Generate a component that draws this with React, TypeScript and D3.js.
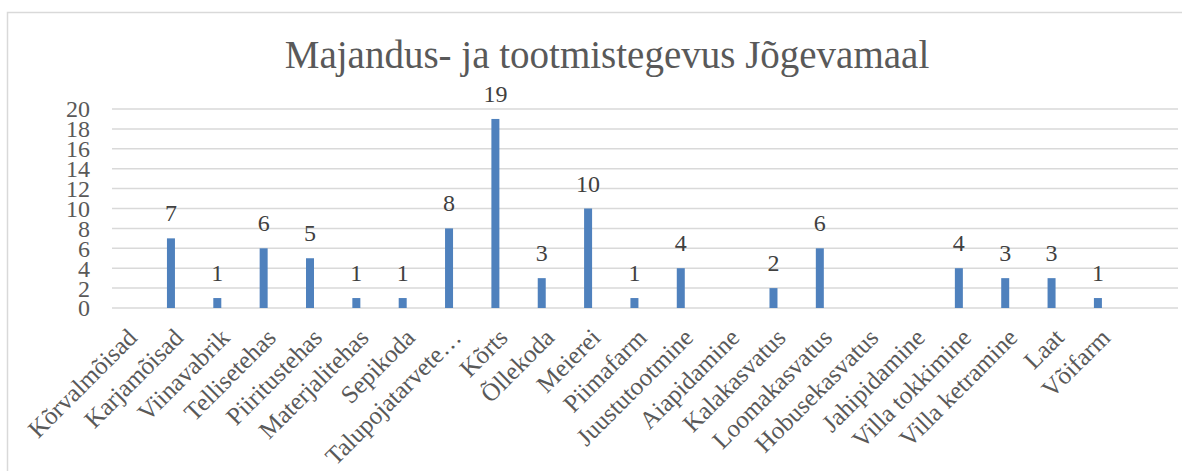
import React, { useRef, useEffect } from "react";
import * as d3 from "d3";

const title = "Majandus- ja tootmistegevus Jõgevamaal";

const categories = [
  "Kõrvalmõisad",
  "Karjamõisad",
  "Viinavabrik",
  "Tellisetehas",
  "Piiritustehas",
  "Materjalitehas",
  "Sepikoda",
  "Talupojatarvete…",
  "Kõrts",
  "Õllekoda",
  "Meierei",
  "Piimafarm",
  "Juustutootmine",
  "Aiapidamine",
  "Kalakasvatus",
  "Loomakasvatus",
  "Hobusekasvatus",
  "Jahipidamine",
  "Villa tokkimine",
  "Villa ketramine",
  "Laat",
  "Võifarm",
  "",
];

const values: (number | null)[] = [
  null, 7, 1, 6, 5, 1, 1, 8, 19, 3, 10, 1, 4, null, 2, 6, null, null, 4, 3, 3, 1, null,
];

const yTicks = [0, 2, 4, 6, 8, 10, 12, 14, 16, 18, 20];

const W = 1182;
const H = 471;
const FONT = "'Liberation Serif', 'DejaVu Serif', serif";

export default function App() {
  const svgRef = useRef<SVGSVGElement>(null);

  useEffect(() => {
    const svg = d3.select(svgRef.current);
    svg.selectAll("*").remove();

    const left = 112;
    const right = 1178;
    const top = 109;
    const bottom = 308;

    // chart frame (cropped on right and bottom)
    svg
      .append("rect")
      .attr("x", 7.5)
      .attr("y", 12.5)
      .attr("width", W + 20)
      .attr("height", H + 20)
      .attr("fill", "#fff")
      .attr("stroke", "#d9d9d9")
      .attr("stroke-width", 1.5);

    const x = d3.scaleBand<string>().domain(categories.map((c, i) => i + "")).range([left, right]);
    const y = d3.scaleLinear().domain([0, 20]).range([bottom, top]);

    const barW = 8;
    const seriesShift = -x.bandwidth() * 0.228;
    const cx = (i: number) => (x(i + "") as number) + x.bandwidth() / 2;

    // title
    svg
      .append("text")
      .attr("x", 607)
      .attr("y", 68)
      .attr("text-anchor", "middle")
      .attr("font-family", FONT)
      .attr("font-size", 39)
      .attr("fill", "#595959")
      .text(title);

    // gridlines
    svg
      .append("g")
      .selectAll("line")
      .data(yTicks)
      .join("line")
      .attr("x1", left)
      .attr("x2", right)
      .attr("y1", (d) => y(d))
      .attr("y2", (d) => y(d))
      .attr("stroke", "#d9d9d9")
      .attr("stroke-width", 1.5);

    // y tick labels
    svg
      .append("g")
      .selectAll("text")
      .data(yTicks)
      .join("text")
      .attr("x", 90)
      .attr("y", (d) => y(d))
      .attr("dy", "0.35em")
      .attr("text-anchor", "end")
      .attr("font-family", FONT)
      .attr("font-size", 24)
      .attr("fill", "#595959")
      .text((d) => d);

    const data = categories.map((c, i) => ({ c, i, v: values[i] })).filter((d) => d.v != null);

    // bars
    svg
      .append("g")
      .selectAll("rect")
      .data(data)
      .join("rect")
      .attr("x", (d) => cx(d.i) + seriesShift - barW / 2)
      .attr("y", (d) => y(d.v as number))
      .attr("width", barW)
      .attr("height", (d) => bottom - y(d.v as number))
      .attr("fill", "#4f81bd");

    // data labels
    svg
      .append("g")
      .selectAll("text")
      .data(data)
      .join("text")
      .attr("x", (d) => cx(d.i) + seriesShift)
      .attr("y", (d) => y(d.v as number) - 17)
      .attr("text-anchor", "middle")
      .attr("font-family", FONT)
      .attr("font-size", 24)
      .attr("fill", "#404040")
      .text((d) => d.v as number);

    // category labels
    svg
      .append("g")
      .selectAll("text")
      .data(categories)
      .join("text")
      .attr("transform", (d, i) => `translate(${cx(i) - 3},${bottom + 25}) rotate(-45)`)
      .attr("text-anchor", "end")
      .attr("dy", "0.35em")
      .attr("font-family", FONT)
      .attr("font-size", 25)
      .attr("fill", "#595959")
      .text((d) => d);
  }, []);

  return (
    <div style={{ position: "fixed", left: 0, top: 0 }}>
      <svg ref={svgRef} width={W} height={H} style={{ display: "block" }} />
    </div>
  );
}
